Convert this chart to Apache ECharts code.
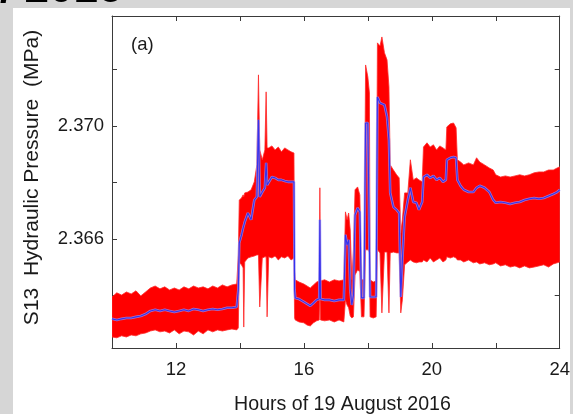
<!DOCTYPE html>
<html><head><meta charset="utf-8">
<script src="https://cdn.jsdelivr.net/npm/echarts@6/dist/echarts.min.js"></script>
<style>html,body{margin:0;padding:0;background:#d6d6d6;} #c{width:573px;height:414px;}</style>
</head><body><div id="c"></div>
<script>
// Time (hours of 19 August 2016)
const hours = [10.00,10.15,10.30,10.45,10.60,10.75,10.90,11.05,11.20,11.35,11.50,11.65,11.80,11.95,12.10,12.25,12.40,12.55,12.70,12.85,13.00,13.15,13.30,13.45,13.60,13.75,13.90,
13.95,13.98,14.05,14.10,14.12,14.15,14.25,14.35,14.45,14.53,14.58,14.62,14.70,14.78,14.82,14.85,14.90,15.00,15.10,15.20,15.30,15.40,15.50,15.60,15.69,15.71,
15.73,15.85,16.00,16.10,16.20,16.30,16.40,16.48,16.50,16.52,16.65,16.80,16.95,17.10,17.25,
17.30,17.35,17.40,17.45,17.50,17.55,17.60,17.68,17.75,17.80,17.88,17.93,18.00,18.05,18.07,18.17,18.26,18.30,18.38,18.44,18.52,18.60,18.66,18.70,18.80,18.90,18.98,19.03,19.08,19.15,19.25,19.33,19.42,19.52,19.60,19.70,
19.74,19.85,19.95,20.05,20.15,20.25,20.35,20.44,20.47,20.58,20.68,20.76,20.80,20.90,21.00,21.15,21.30,21.40,21.50,21.65,21.80,21.92,22.00,22.15,22.30,22.45,22.60,22.75,22.90,23.05,23.20,23.35,23.50,23.65,23.80,23.92,24.00];

// Raw signal envelope (red): upper and lower extremes (MPa)
const upper = [2.36395,2.36410,2.36402,2.36413,2.36406,2.36417,2.36399,2.36413,2.36427,2.36434,2.36424,2.36431,2.36420,2.36427,2.36420,2.36431,2.36424,2.36434,2.36427,2.36431,2.36424,2.36434,2.36427,2.36438,2.36431,2.36438,2.36441,
2.36544,2.36738,2.36745,2.36756,2.36749,2.36763,2.36766,2.36774,2.36802,2.36862,2.37180,2.36915,2.36880,2.36915,2.37120,2.36922,2.36922,2.36929,2.36915,2.36925,2.36908,2.36922,2.36915,2.36908,2.36904,2.36491,
2.36456,2.36448,2.36441,2.36434,2.36427,2.36438,2.36448,2.36452,2.36781,2.36452,2.36456,2.36448,2.36456,2.36452,2.36456,
2.36696,2.36668,2.36692,2.36632,2.36456,2.36562,2.36774,2.36784,2.36756,2.36456,2.36456,2.37215,2.37173,2.37116,2.36456,2.36448,2.36452,2.37293,2.37282,2.37314,2.37258,2.37233,2.37138,2.36862,2.36844,2.36827,2.36816,2.36622,2.36668,2.36763,2.36763,2.36880,2.36809,2.36816,2.36809,2.36802,
2.36925,2.36940,2.36925,2.36933,2.36915,2.36929,2.36922,2.36915,2.36996,2.37007,2.37010,2.36993,2.36880,2.36872,2.36862,2.36869,2.36862,2.36887,2.36872,2.36862,2.36851,2.36844,2.36827,2.36819,2.36823,2.36819,2.36823,2.36827,2.36823,2.36827,2.36834,2.36837,2.36837,2.36844,2.36844,2.36851,2.36855];

const lower = [2.36254,2.36251,2.36258,2.36254,2.36261,2.36258,2.36265,2.36268,2.36275,2.36279,2.36272,2.36275,2.36268,2.36279,2.36265,2.36275,2.36272,2.36261,2.36275,2.36265,2.36279,2.36272,2.36279,2.36275,2.36279,2.36282,2.36279,
2.36286,2.36516,2.36509,2.36498,2.36289,2.36519,2.36533,2.36537,2.36540,2.36544,2.36544,2.36360,2.36533,2.36537,2.36537,2.36325,2.36537,2.36533,2.36540,2.36526,2.36537,2.36533,2.36540,2.36526,2.36533,2.36321,
2.36314,2.36307,2.36304,2.36296,2.36293,2.36304,2.36311,2.36314,2.36420,2.36314,2.36311,2.36314,2.36307,2.36314,2.36307,
2.36385,2.36367,2.36357,2.36328,2.36321,2.36325,2.36473,2.36491,2.36484,2.36325,2.36325,2.36562,2.36562,2.36554,2.36325,2.36321,2.36325,2.36562,2.36551,2.36339,2.36554,2.36554,2.36339,2.36551,2.36554,2.36551,2.36551,2.36339,2.36385,2.36509,2.36519,2.36526,2.36519,2.36516,2.36519,2.36519,
2.36526,2.36519,2.36533,2.36519,2.36526,2.36533,2.36519,2.36526,2.36537,2.36533,2.36537,2.36533,2.36526,2.36526,2.36519,2.36526,2.36516,2.36519,2.36512,2.36516,2.36509,2.36512,2.36516,2.36505,2.36509,2.36501,2.36505,2.36498,2.36505,2.36498,2.36501,2.36505,2.36509,2.36501,2.36512,2.36516,2.36519];

// Smoothed signal (blue)
const mean = [2.36318,2.36314,2.36318,2.36321,2.36321,2.36325,2.36328,2.36335,2.36346,2.36350,2.36346,2.36350,2.36346,2.36342,2.36346,2.36350,2.36346,2.36353,2.36350,2.36346,2.36350,2.36353,2.36350,2.36353,2.36357,2.36357,2.36360,
2.36420,2.36586,2.36615,2.36639,2.36632,2.36660,2.36692,2.36668,2.36738,2.36749,2.37021,2.36749,2.36766,2.36781,2.36869,2.36791,2.36798,2.36819,2.36816,2.36809,2.36809,2.36805,2.36802,2.36802,2.36802,2.36420,
2.36392,2.36388,2.36378,2.36371,2.36364,2.36374,2.36385,2.36388,2.36668,2.36388,2.36385,2.36385,2.36381,2.36385,2.36385,
2.36615,2.36579,2.36597,2.36420,2.36367,2.36402,2.36685,2.36710,2.36696,2.36392,2.36392,2.37010,2.37010,2.37003,2.36395,2.36395,2.36395,2.37102,2.37081,2.37077,2.37074,2.37032,2.36950,2.36763,2.36713,2.36703,2.36692,2.36395,2.36526,2.36678,2.36738,2.36781,2.36731,2.36728,2.36703,2.36731,
2.36819,2.36827,2.36816,2.36823,2.36809,2.36816,2.36802,2.36809,2.36880,2.36887,2.36890,2.36887,2.36809,2.36788,2.36774,2.36766,2.36766,2.36781,2.36788,2.36781,2.36766,2.36738,2.36728,2.36731,2.36728,2.36724,2.36728,2.36731,2.36738,2.36742,2.36745,2.36742,2.36745,2.36752,2.36759,2.36766,2.36774];

const xTickLabels = [12,16,20,24];
const yTickValues = [2.364,2.366,2.368,2.370,2.372];
const yTickLabels = [2.366,2.370];

const FONT = "'Liberation Sans', Arial, Helvetica, sans-serif";
const AX = '#3a3a3a';
const TXT = '#1a1a1a';
const chart = echarts.init(document.getElementById('c'), null, {renderer:'canvas'});

const baseX = {
  type:'value', min:10, max:24, interval:2,
  axisLine:{show:true, onZero:false, lineStyle:{color:AX, width:1}},
  axisTick:{show:true, inside:true, length:5, lineStyle:{color:AX, width:1}},
  splitLine:{show:false}
};
const baseY = {
  type:'value', min:2.36215, max:2.37388, scale:true,
  axisLine:{show:true, onZero:false, lineStyle:{color:AX, width:1}},
  axisTick:{show:true, inside:true, length:5, customValues:yTickValues, lineStyle:{color:AX, width:1}},
  splitLine:{show:false}
};
const meanData = hours.map((h,i)=>[h, mean[i]]);

const option = {
  backgroundColor:'#d6d6d6',
  animation:false,
  graphic:[
    {type:'rect', z:-10, shape:{x:13, y:8, width:557, height:406}, style:{fill:'#ffffff'}},
    {type:'text', z:10, style:{text:'/ 2016', x:0, y:-10.5, font:"bold 44px 'Liberation Sans', Arial, sans-serif", fill:'#000', align:'left', verticalAlign:'middle'}},
    {type:'text', z:10, x:32, y:177.5, rotation:Math.PI/2,
     style:{text:'S13  Hydraulic Pressure  (MPa)', font:"21px 'Liberation Sans', Arial, sans-serif", fill:TXT, align:'center', verticalAlign:'middle'}},
    {type:'text', z:10, style:{text:'Hours of 19 August 2016', x:342.5, y:405, font:"19.6px 'Liberation Sans', Arial, sans-serif", fill:TXT, align:'center', verticalAlign:'middle'}},
    {type:'text', z:10, style:{text:'(a)', x:131, y:45, font:"18.5px 'Liberation Sans', Arial, sans-serif", fill:TXT, align:'left', verticalAlign:'middle'}}
  ],
  grid:{left:112, top:16, width:456, height:332, containLabel:false},
  xAxis:[
    Object.assign({}, baseX, {position:'bottom',
      axisLabel:{show:true, margin:12.5, fontSize:18.5, color:TXT, fontFamily:FONT,
        formatter:v => xTickLabels.indexOf(v) >= 0 ? String(v) : ''}}),
    Object.assign({}, baseX, {position:'top', axisLabel:{show:false}})
  ],
  yAxis:[
    Object.assign({}, baseY, {position:'left',
      axisLabel:{show:true, margin:8, fontSize:18.5, color:TXT, fontFamily:FONT, customValues:yTickLabels,
        formatter:v => Number(v).toFixed(3)}}),
    Object.assign({}, baseY, {position:'right', axisLabel:{show:false}})
  ],
  series:[
    {type:'custom', clip:true, silent:true, z:2,
     data:[[hours[0], lower[0]]],
     renderItem:function(params, api){
       const pts = [];
       for (let i = 0; i < hours.length; i++) pts.push(api.coord([hours[i], upper[i]]));
       for (let i = hours.length - 1; i >= 0; i--) pts.push(api.coord([hours[i], lower[i]]));
       return {type:'polygon', shape:{points:pts}, style:{fill:'#ff0000', stroke:'#ff2a2a', lineWidth:0.8}};
     }},
    {type:'line', z:3, silent:true, showSymbol:false, clip:true, data:meanData,
     lineStyle:{color:'rgba(150,150,255,0.75)', width:2.6}},
    {type:'line', z:4, silent:true, showSymbol:false, clip:true, data:meanData,
     lineStyle:{color:'#3232f0', width:1.1}}
  ]
};
chart.setOption(option);
</script>
</body></html>
